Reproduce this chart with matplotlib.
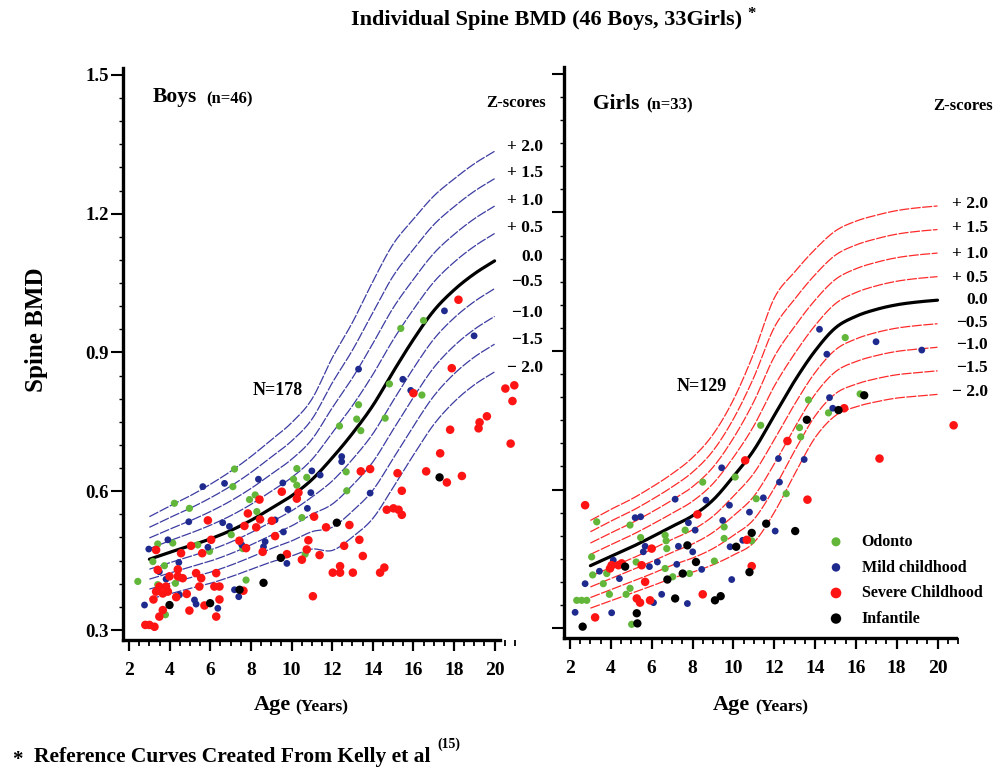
import numpy as np
import matplotlib
matplotlib.use("Agg")
import matplotlib.pyplot as plt
from matplotlib.ticker import MultipleLocator

plt.rcParams['font.family'] = ['Liberation Serif', 'DejaVu Serif']
plt.rcParams['font.weight'] = 'bold'

# ---------------- data ----------------
ages_ref = [3, 4, 5, 6, 7, 8, 9, 10, 11, 12, 13, 14, 15, 16, 17, 18, 19, 20]
z_levels = [2.0, 1.5, 1.0, 0.5, 0.0, -0.5, -1.0, -1.5, -2.0]
z_labels = ["+ 2.0", "+ 1.5", "+ 1.0", "+ 0.5", "0.0", "\u22120.5", "\u22121.0", "\u22121.5", "\u2212 2.0"]

boys_median = [0.453, 0.468, 0.482, 0.497, 0.515, 0.537, 0.563, 0.590, 0.625, 0.672,
               0.725, 0.785, 0.858, 0.928, 0.990, 1.035, 1.070, 1.098]
boys_sd_up = [0.046, 0.050, 0.054, 0.059, 0.064, 0.069, 0.074, 0.079, 0.087, 0.108,
              0.120, 0.134, 0.138, 0.130, 0.124, 0.120, 0.119, 0.1185]
boys_sd_down = [0.043, 0.045, 0.046, 0.048, 0.050, 0.053, 0.058, 0.065, 0.075, 0.100,
                0.112, 0.122, 0.125, 0.125, 0.123, 0.121, 0.120, 0.120]

girls_median = [0.435, 0.455, 0.475, 0.497, 0.520, 0.543, 0.577, 0.628, 0.685, 0.760,
                0.835, 0.900, 0.950, 0.975, 0.990, 1.000, 1.006, 1.010]
girls_sd_up = [0.049, 0.051, 0.052, 0.054, 0.057, 0.063, 0.071, 0.083, 0.105, 0.127,
               0.118, 0.110, 0.105, 0.103, 0.102, 0.102, 0.102, 0.102]
girls_sd_down = [0.046, 0.048, 0.050, 0.053, 0.056, 0.061, 0.070, 0.085, 0.100, 0.105,
                 0.101, 0.094, 0.095, 0.098, 0.100, 0.101, 0.102, 0.102]

groups = ["Odonto", "Mild childhood", "Severe Childhood", "Infantile"]

boys_odonto_age = [7.19, 7.11, 4.23, 4.97, 3.41, 4.15, 5.38, 3.17, 3.74, 2.43, 3.41, 4.28, 5.96, 7.03, 3.79,
                   7.93, 8.21, 8.29, 7.76, 7.60, 10.26, 10.10, 10.75, 10.26, 10.51, 10.67, 12.36, 12.69, 12.72,
                   16.50, 15.38, 14.82, 16.42, 13.30, 13.21, 13.41, 14.61]
boys_odonto_bmd = [0.648, 0.610, 0.574, 0.563, 0.486, 0.488, 0.484, 0.448, 0.439, 0.405, 0.398, 0.401, 0.470, 0.506, 0.333,
                   0.582, 0.592, 0.556, 0.408, 0.476, 0.649, 0.626, 0.630, 0.613, 0.543, 0.464, 0.741, 0.642, 0.601,
                   0.969, 0.952, 0.832, 0.808, 0.787, 0.756, 0.731, 0.758]

boys_mild_age = [5.63, 6.70, 4.94, 6.61, 6.94, 3.91, 2.97, 5.88, 3.49, 3.82, 4.48, 2.76, 5.22, 5.30, 6.37, 7.19, 7.40, 4.45,
                 8.37, 9.57, 11.00, 11.41, 9.82, 10.78, 10.95, 9.19, 9.60, 8.70, 8.62, 7.55, 9.77,
                 17.53, 18.99, 13.30, 15.48, 15.87, 12.47, 12.47, 13.87]
boys_mild_bmd = [0.610, 0.617, 0.534, 0.532, 0.524, 0.495, 0.475, 0.479, 0.426, 0.410, 0.376, 0.354, 0.365, 0.356, 0.347, 0.387, 0.372, 0.446,
                 0.626, 0.618, 0.644, 0.635, 0.561, 0.563, 0.597, 0.538, 0.512, 0.491, 0.480, 0.484, 0.444,
                 0.990, 0.936, 0.864, 0.842, 0.818, 0.675, 0.664, 0.596]

boys_severe_age = [5.88, 3.33, 4.56, 5.05, 5.60, 6.04, 7.43, 7.68, 7.76, 7.85, 3.41, 4.40, 3.99, 4.40, 4.64, 5.30, 5.55,
                   6.29, 6.20, 6.45, 3.49, 3.82, 3.33, 3.66, 3.20, 3.91, 4.32, 4.84, 5.46, 5.71, 4.97, 6.45, 6.29,
                   3.49, 3.66, 2.80, 3.00, 3.25,
                   9.52, 10.34, 10.26, 8.42, 11.11, 8.26, 9.03, 8.45, 9.19, 8.58, 9.77, 10.83, 10.75, 10.51, 11.38,
                   11.70, 12.39, 12.03, 12.39, 13.02, 11.05, 7.63,
                   18.22, 17.89, 17.81, 19.62, 19.26, 19.21, 17.32, 18.39, 17.65, 16.63, 15.22, 15.43, 16.00, 13.41,
                   13.87, 14.69, 15.02, 15.27, 15.43, 12.85, 13.34, 12.59, 13.51,
                   14.36, 14.57, 20.53, 20.97, 20.88, 20.79]
boys_severe_bmd = [0.537, 0.473, 0.466, 0.482, 0.466, 0.495, 0.493, 0.525, 0.477, 0.552, 0.430, 0.431, 0.416, 0.416, 0.412, 0.423, 0.412,
                   0.423, 0.394, 0.394, 0.394, 0.394, 0.383, 0.379, 0.366, 0.383, 0.371, 0.378, 0.394, 0.353, 0.342, 0.366, 0.329,
                   0.329, 0.343, 0.311, 0.311, 0.307,
                   0.599, 0.597, 0.584, 0.582, 0.545, 0.522, 0.536, 0.539, 0.503, 0.469, 0.464, 0.494, 0.474, 0.452, 0.462,
                   0.522, 0.438, 0.424, 0.424, 0.424, 0.373, 0.385,
                   1.014, 0.866, 0.733, 0.762, 0.749, 0.736, 0.682, 0.633, 0.619, 0.643, 0.639, 0.601, 0.812, 0.643,
                   0.648, 0.560, 0.563, 0.560, 0.549, 0.527, 0.495, 0.482, 0.460,
                   0.424, 0.435, 0.822, 0.829, 0.795, 0.703]

boys_infantile_age = [3.99, 5.99, 7.44, 8.62, 9.47, 12.23, 17.29]
boys_infantile_bmd = [0.354, 0.358, 0.387, 0.402, 0.456, 0.532, 0.630]

girls_odonto_age = [3.31, 4.94, 5.46, 6.66, 6.71, 6.74, 7.64, 3.06, 3.11, 3.80, 3.63, 5.24, 4.94, 4.75, 3.93, 2.33, 2.57, 2.82,
                    6.66, 7.03, 7.85, 5.02, 10.09, 8.50, 11.12, 12.59, 9.55, 9.55, 10.90, 9.07, 11.34,
                    15.48, 13.68, 16.21, 14.66, 13.24, 13.30]
girls_odonto_bmd = [0.530, 0.523, 0.496, 0.501, 0.489, 0.472, 0.512, 0.454, 0.415, 0.418, 0.396, 0.443, 0.386, 0.373, 0.373, 0.360, 0.360, 0.360,
                    0.429, 0.411, 0.418, 0.308, 0.627, 0.616, 0.580, 0.591, 0.519, 0.494, 0.489, 0.445, 0.739,
                    0.929, 0.794, 0.807, 0.766, 0.734, 0.714]

girls_mild_age = [7.15, 5.19, 5.46, 5.68, 7.31, 3.44, 4.12, 4.42, 5.89, 6.28, 7.23, 2.74, 6.49, 6.09, 2.25, 4.04, 5.59,
                  12.21, 13.47, 9.43, 12.26, 11.47, 8.66, 9.81, 10.79, 7.80, 8.13, 9.48, 10.46, 12.05, 9.84, 8.01, 8.45, 9.92, 7.75,
                  14.22, 14.58, 16.99, 19.23, 14.71, 14.87]
girls_mild_bmd = [0.579, 0.539, 0.541, 0.477, 0.477, 0.423, 0.447, 0.407, 0.433, 0.443, 0.438, 0.396, 0.373, 0.355, 0.334, 0.333, 0.465,
                  0.667, 0.665, 0.647, 0.616, 0.582, 0.577, 0.566, 0.551, 0.528, 0.512, 0.533, 0.490, 0.510, 0.476, 0.465, 0.427, 0.405, 0.353,
                  0.947, 0.893, 0.920, 0.902, 0.799, 0.776]

girls_severe_age = [2.74, 4.04, 4.37, 3.96, 4.53, 5.51, 6.00, 5.68, 5.27, 5.43, 5.92, 3.23,
                    12.65, 10.58, 8.24, 13.63, 10.66, 10.90, 8.50, 15.43, 17.16, 20.79]
girls_severe_bmd = [0.566, 0.436, 0.436, 0.429, 0.440, 0.436, 0.472, 0.400, 0.364, 0.355, 0.360, 0.323,
                    0.705, 0.663, 0.546, 0.578, 0.491, 0.434, 0.373, 0.776, 0.667, 0.739]

girls_infantile_age = [4.70, 6.77, 7.15, 5.27, 5.30, 2.62, 13.60, 11.61, 13.03, 10.90, 10.14, 7.75, 8.17, 10.79, 7.52,
                       9.10, 9.38, 16.41, 15.15]
girls_infantile_bmd = [0.433, 0.405, 0.364, 0.332, 0.310, 0.303, 0.751, 0.526, 0.510, 0.506, 0.476, 0.479, 0.443, 0.421, 0.418,
                       0.360, 0.369, 0.804, 0.772]

x_ticks = [2, 4, 6, 8, 10, 12, 14, 16, 18, 20]
y_ticks = [0.3, 0.6, 0.9, 1.2, 1.5]

# ---------------- helpers ----------------
W, H = 993, 774


def fx(px):
    return px / W


def fy(py):
    return 1 - py / H


def catmull(xs, ys, n=16):
    P = np.column_stack([np.asarray(xs, float), np.asarray(ys, float)])
    P = np.vstack([2 * P[0] - P[1], P, 2 * P[-1] - P[-2]])
    t = np.linspace(0, 1, n, endpoint=False)[:, None]
    out = []
    for i in range(1, len(P) - 2):
        p0, p1, p2, p3 = P[i - 1], P[i], P[i + 1], P[i + 2]
        seg = 0.5 * (2 * p1 + (-p0 + p2) * t + (2 * p0 - 5 * p1 + 4 * p2 - p3) * t ** 2
                     + (-p0 + 3 * p1 - 3 * p2 + p3) * t ** 3)
        out.append(seg)
    out.append(P[-2][None, :])
    A = np.vstack(out)
    return A[:, 0], A[:, 1]


fig = plt.figure(figsize=(W / 100, H / 100), dpi=100)
fig.patch.set_facecolor('white')

ax_b = fig.add_axes([fx(123), fy(640), fx(521) - fx(123), fy(68) - fy(640)])
ax_g = fig.add_axes([fx(564), fy(638), fx(962) - fx(564), fy(67) - fy(638)])

colors = {"Odonto": "#62b73a", "Mild childhood": "#1e2a8e",
          "Severe Childhood": "#ff1414", "Infantile": "#000000"}
sizes = {"Odonto": 27, "Mild childhood": 24, "Severe Childhood": 38, "Infantile": 36}

serif = 'Liberation Serif'


def setup(ax, xlim, xbound, ylim, ylabels):
    ax.set_xlim(*xlim)
    ax.set_ylim(*ylim)
    for s in ("top", "right"):
        ax.spines[s].set_visible(False)
    for s in ("left", "bottom"):
        ax.spines[s].set_linewidth(2.4)
    ax.spines['bottom'].set_bounds(*xbound)
    ax.set_xticks(x_ticks)
    ax.xaxis.set_minor_locator(MultipleLocator(0.5))
    ax.set_yticks(y_ticks)
    ax.yaxis.set_minor_locator(MultipleLocator(0.05))
    ax.tick_params(axis='x', which='major', direction='out', length=8, width=1.6, pad=8, labelsize=14)
    ax.tick_params(axis='x', which='minor', direction='out', length=4, width=1.3)
    ax.tick_params(axis='y', which='major', direction='out', length=9, width=1.5, pad=1, labelsize=13.5)
    ax.tick_params(axis='y', which='minor', direction='out', length=3, width=1.0)
    for lab in ax.get_xticklabels() + ax.get_yticklabels():
        lab.set_fontweight('bold')
        lab.set_family(serif)
    if not ylabels:
        ax.set_yticklabels([])
    ax.set_facecolor('white')


setup(ax_b, (1.70, 21.3), (1.70, 20.27), (0.2784, 1.515), True)
setup(ax_g, (1.706, 21.2), (1.706, 20.9), (0.2784, 1.515), False)


def draw_curves(ax, med, up, down, col):
    med = np.asarray(med)
    up = np.asarray(up)
    down = np.asarray(down)
    for z in z_levels:
        if z > 0:
            yv = med + z * up
        elif z < 0:
            yv = med + z * down
        else:
            yv = med
        xs, ys = catmull(ages_ref, yv)
        if z == 0:
            ax.plot(xs, ys, color='black', lw=2.3, zorder=3, solid_capstyle='round')
        else:
            ax.plot(xs, ys, color=col, lw=0.9, ls=(0, (8, 1.2)), zorder=2)


draw_curves(ax_b, boys_median, boys_sd_up, boys_sd_down, "#3c3ca2")
draw_curves(ax_g, girls_median, girls_sd_up, girls_sd_down, "#ff2a2a")

boys_sets = [(boys_odonto_age, boys_odonto_bmd), (boys_mild_age, boys_mild_bmd),
             (boys_severe_age, boys_severe_bmd), (boys_infantile_age, boys_infantile_bmd)]
girls_sets = [(girls_odonto_age, girls_odonto_bmd), (girls_mild_age, girls_mild_bmd),
              (girls_severe_age, girls_severe_bmd), (girls_infantile_age, girls_infantile_bmd)]

handles = []
for g, (xa, ya) in zip(groups, boys_sets):
    ax_b.scatter(xa, ya, s=sizes[g], color=colors[g], edgecolors='none', zorder=4, clip_on=False)
for g, (xa, ya) in zip(groups, girls_sets):
    h = ax_g.scatter(xa, ya, s=sizes[g], color=colors[g], edgecolors='none', zorder=4, clip_on=False, label=g)
    handles.append(h)

leg = fig.legend(handles=handles, labels=groups,
                 loc='upper left', bbox_to_anchor=(fx(828), fy(534)), frameon=False,
                 prop={'family': serif, 'weight': 'bold', 'size': 11.5},
                 handlelength=1.0, handletextpad=1.1, labelspacing=0.6, borderaxespad=0, borderpad=0,
                 markerscale=1.25)

# ---------------- texts ----------------
fig.text(fx(547), fy(20), "Individual Spine BMD (46 Boys, 33Girls)", ha='center', va='center',
         fontsize=16, fontweight='bold', family=serif)
fig.text(fx(747), fy(14), "*", ha='left', va='center', fontsize=12, fontweight='bold', family=serif)

fig.text(fx(37), fy(330), "Spine BMD", rotation=90, ha='center', va='center', fontsize=18,
         fontweight='bold', family=serif)

fig.text(fx(153), fy(97), "Boys", ha='left', va='center', fontsize=15.5, fontweight='bold', family=serif)
fig.text(fx(206), fy(99), "(n=46)", ha='left', va='center', fontsize=12, fontweight='bold', family=serif)
fig.text(fx(593), fy(104), "Girls", ha='left', va='center', fontsize=15.5, fontweight='bold', family=serif)
fig.text(fx(646), fy(105), "(n=33)", ha='left', va='center', fontsize=12, fontweight='bold', family=serif)

fig.text(fx(516), fy(103), "Z-scores", ha='center', va='center', fontsize=12, fontweight='bold', family=serif)
fig.text(fx(963), fy(106), "Z-scores", ha='center', va='center', fontsize=12, fontweight='bold', family=serif)

boys_lab_y = [147, 173, 201, 228, 257, 282, 313, 340, 368]
girls_lab_y = [204, 228, 254, 278, 300, 323, 345, 368, 392]
for lab, yb, yg in zip(z_labels, boys_lab_y, girls_lab_y):
    fig.text(fx(543), fy(yb), lab, ha='right', va='center', fontsize=12.5, fontweight='bold', family=serif)
    fig.text(fx(988), fy(yg), lab, ha='right', va='center', fontsize=12.5, fontweight='bold', family=serif)

ax_b.text(9.3, 0.818, "N=178", ha='center', va='center', fontsize=13, fontweight='bold', family=serif)
ax_g.text(8.47, 0.822, "N=129", ha='center', va='center', fontsize=13, fontweight='bold', family=serif)

fig.text(fx(254), fy(705), "Age", ha='left', va='center', fontsize=16, fontweight='bold', family=serif)
fig.text(fx(295), fy(707), "(Years)", ha='left', va='center', fontsize=12.5, fontweight='bold', family=serif)
fig.text(fx(713), fy(705), "Age", ha='left', va='center', fontsize=16, fontweight='bold', family=serif)
fig.text(fx(755), fy(707), "(Years)", ha='left', va='center', fontsize=12.5, fontweight='bold', family=serif)

fig.text(fx(12), fy(760), "*", ha='left', va='center', fontsize=15, fontweight='bold', family=serif)
fig.text(fx(34), fy(757), "Reference Curves Created From Kelly et al", ha='left', va='center', fontsize=15.5,
         fontweight='bold', family=serif)
fig.text(fx(437), fy(744), "(15)", ha='left', va='center', fontsize=10, family=serif)

fig.savefig("out.png", dpi=100, facecolor='white')
